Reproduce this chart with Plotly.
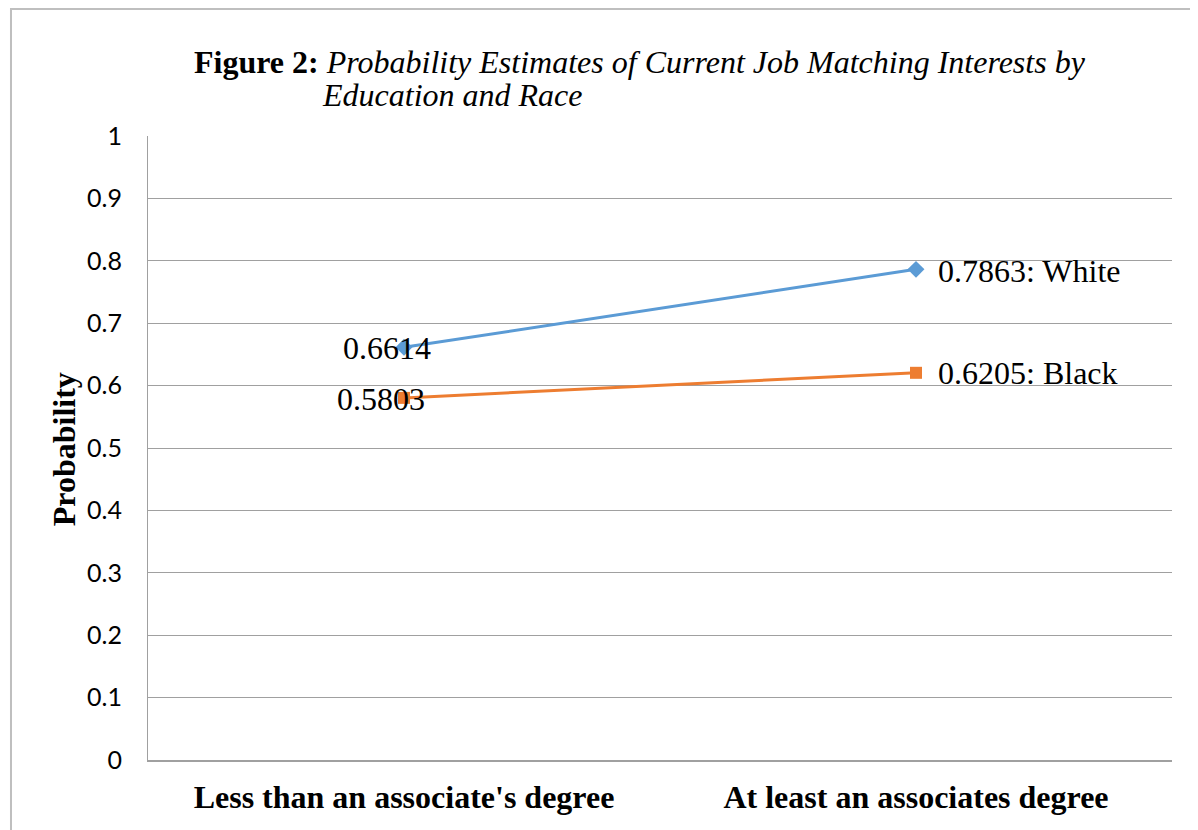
import plotly.graph_objects as go

categories = ["Less than an associate's degree", "At least an associates degree"]
white_values = [0.6614, 0.7863]
black_values = [0.5803, 0.6205]
white_labels = ["0.6614", "0.7863: White"]
black_labels = ["0.5803", "0.6205: Black"]
y_ticks = [0, 0.1, 0.2, 0.3, 0.4, 0.5, 0.6, 0.7, 0.8, 0.9, 1]
y_ticktext = ["0", "0.1", "0.2", "0.3", "0.4", "0.5", "0.6", "0.7", "0.8", "0.9", "1"]

BLUE = "#5B9BD5"
ORANGE = "#ED7D31"
SERIF = "Liberation Serif, Times New Roman, serif"
SANS = "Lato, Carlito, Calibri, sans-serif"

fig = go.Figure()
fig.add_trace(go.Scatter(x=categories, y=white_values, mode="lines+markers",
                         line=dict(color=BLUE, width=3),
                         marker=dict(symbol="diamond", size=13, color=BLUE),
                         name="White", showlegend=False))
fig.add_trace(go.Scatter(x=categories, y=black_values, mode="lines+markers",
                         line=dict(color=ORANGE, width=3),
                         marker=dict(symbol="square", size=12, color=ORANGE),
                         name="Black", showlegend=False))

# data labels
label_font = dict(family=SERIF, size=32, color="#000000")
fig.add_annotation(x=categories[0], y=white_values[0], text=white_labels[0], showarrow=False,
                   xanchor="center", yanchor="middle", xshift=-17, yshift=-1, font=label_font)
fig.add_annotation(x=categories[0], y=black_values[0], text=black_labels[0], showarrow=False,
                   xanchor="center", yanchor="middle", xshift=-23, yshift=-1, font=label_font)
fig.add_annotation(x=categories[1], y=white_values[1], text=white_labels[1], showarrow=False,
                   xanchor="left", yanchor="middle", xshift=20, yshift=-2, font=label_font)
fig.add_annotation(x=categories[1], y=black_values[1], text=black_labels[1], showarrow=False,
                   xanchor="left", yanchor="middle", xshift=20, yshift=0, font=label_font)

# title (two lines, hanging indent)
fig.add_annotation(xref="paper", yref="paper", x=0.043, y=1.118, xanchor="left", yanchor="middle",
                   text="<b>Figure 2:</b> <i>Probability Estimates of Current Job Matching Interests by</i>",
                   showarrow=False, font=dict(family=SERIF, size=32, color="#000000"))
fig.add_annotation(xref="paper", yref="paper", x=0.168, y=1.066, xanchor="left", yanchor="middle",
                   text="<i>Education and Race</i>",
                   showarrow=False, font=dict(family=SERIF, size=32, color="#000000"))

# y-axis title
fig.add_annotation(xref="paper", yref="paper", x=-0.082, y=0.498, xanchor="center", yanchor="middle",
                   text="<b>Probability</b>", textangle=-90, showarrow=False,
                   font=dict(family=SERIF, size=32, color="#000000"))

# outer frame
fig.add_shape(type="rect", xref="paper", yref="paper", x0=-0.1338, y0=-0.3, x1=1.2, y1=1.2035,
              line=dict(color="#BFBFBF", width=2), fillcolor="rgba(0,0,0,0)", layer="below")

fig.update_layout(
    width=1190, height=822,
    margin=dict(l=140, r=26, t=128, b=70),
    paper_bgcolor="white", plot_bgcolor="white",
    xaxis=dict(type="category", showgrid=False, showline=True, linecolor="#A0A0A0", linewidth=1.5,
               ticks="", tickfont=dict(family=SERIF, size=32, color="#000000", weight="bold"),
               range=[-0.5, 1.5], fixedrange=True, ticklabelstandoff=8),
    yaxis=dict(range=[0, 1], tickvals=y_ticks, ticktext=y_ticktext, showgrid=True,
               gridcolor="#A0A0A0", gridwidth=1, showline=True, linecolor="#A0A0A0", linewidth=1,
               ticks="", tickfont=dict(family=SANS, size=25, color="#000000"),
               zeroline=False, ticklabelstandoff=20),
)

fig.write_html("out.html")
